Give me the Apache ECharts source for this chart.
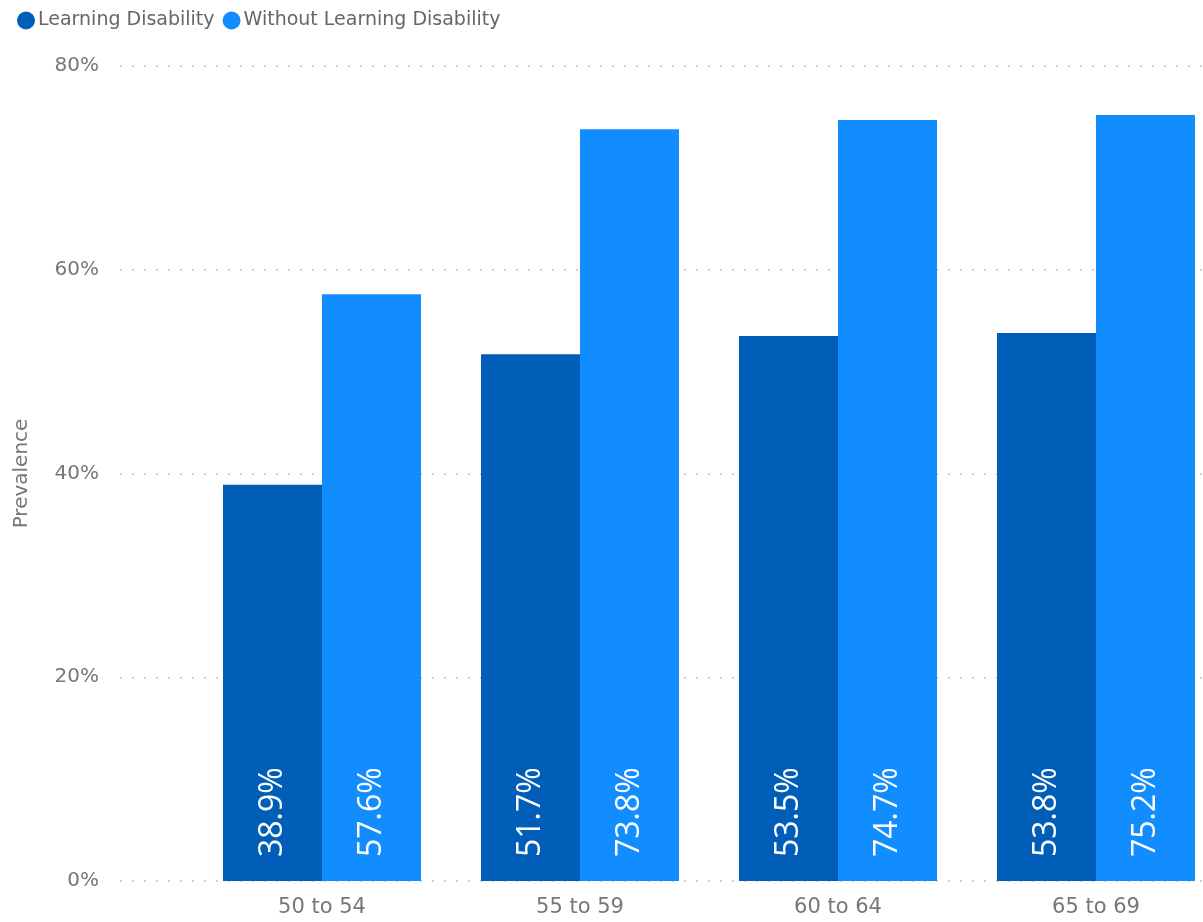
<!DOCTYPE html>
<html>
<head>
<meta charset="utf-8">
<script src="https://cdn.jsdelivr.net/npm/echarts@6/dist/echarts.min.js"></script>
<style>
  html, body { margin: 0; padding: 0; background: #fff; }
  #chart { width: 1203px; height: 922px; }
</style>
</head>
<body>
<div id="chart"></div>
<script>
const ageGroups = ['50 to 54', '55 to 59', '60 to 64', '65 to 69'];
const withLD = [38.9, 51.7, 53.5, 53.8];
const withoutLD = [57.6, 73.8, 74.7, 75.2];
const yTicks = [0, 20, 40, 60, 80];

const chart = echarts.init(document.getElementById('chart'));

const labelStyle = {
    show: true,
    position: 'insideBottom',
    rotate: 90,
    align: 'left',
    verticalAlign: 'middle',
    distance: 24,
    color: '#fff',
    fontSize: 32,
    fontFamily: 'Open Sans',
    formatter: (p) => p.value.toFixed(1) + '%'
};

const option = {
    backgroundColor: '#fff',
    animation: false,
    legend: {
        left: 12,
        top: 6,
        itemGap: 8,
        itemWidth: 18,
        itemHeight: 18,
        icon: 'circle',
        textStyle: { color: '#666', fontSize: 19, fontFamily: 'DejaVu Sans', padding: [0, 0, 0, -2] },
        data: ['Learning Disability', 'Without Learning Disability']
    },
    // grid 0 carries the y axis and gridlines, grid 1 the bars
    grid: [
        { left: 120, right: 0, top: 66, bottom: 41, outerBoundsMode: 'none' },
        { left: 193, right: -22, top: 66, bottom: 41, outerBoundsMode: 'none' }
    ],
    xAxis: [
        { gridIndex: 0, type: 'category', data: ageGroups, show: false },
        {
            gridIndex: 1,
            type: 'category',
            data: ageGroups,
            axisLine: { show: false },
            axisTick: { show: false },
            axisLabel: { color: '#777', fontSize: 21, margin: 16, fontFamily: 'DejaVu Sans' }
        }
    ],
    yAxis: [
        {
            gridIndex: 0,
            type: 'value',
            min: yTicks[0],
            max: yTicks[yTicks.length - 1],
            interval: 20,
            name: 'Prevalence',
            nameLocation: 'middle',
            nameGap: 88,
            nameTextStyle: { color: '#777', fontSize: 20, fontFamily: 'DejaVu Sans' },
            axisLine: { show: false },
            axisTick: { show: false },
            axisLabel: { color: '#777', fontSize: 20, margin: 21, fontFamily: 'DejaVu Sans', formatter: '{value}%' },
            splitLine: { lineStyle: { type: [2, 10], color: '#cfcfcf', width: 2 } }
        },
        {
            gridIndex: 1,
            type: 'value',
            min: yTicks[0],
            max: yTicks[yTicks.length - 1],
            interval: 20,
            show: false,
            splitLine: { show: false }
        }
    ],
    series: [
        {
            name: 'Learning Disability',
            type: 'bar',
            xAxisIndex: 1,
            yAxisIndex: 1,
            data: withLD,
            barWidth: 99,
            barGap: '0%',
            itemStyle: { color: '#005EB8' },
            label: labelStyle
        },
        {
            name: 'Without Learning Disability',
            type: 'bar',
            xAxisIndex: 1,
            yAxisIndex: 1,
            data: withoutLD,
            barWidth: 99,
            barGap: '0%',
            itemStyle: { color: '#118DFF' },
            label: labelStyle
        }
    ]
};

chart.setOption(option);
</script>
</body>
</html>
